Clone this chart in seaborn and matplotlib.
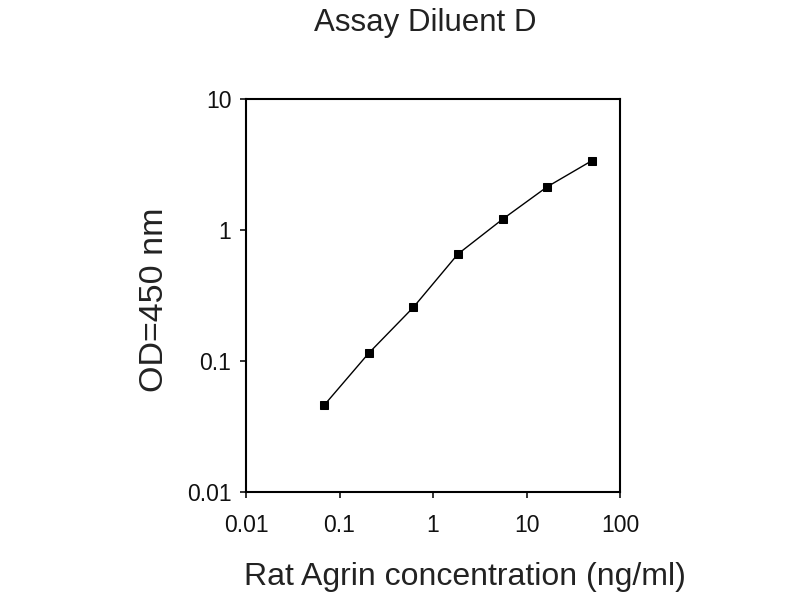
import pandas as pd
import matplotlib
matplotlib.use("Agg")
import matplotlib.pyplot as plt
import seaborn as sns

# data (3-fold dilution series)
conc = [0.0686, 0.206, 0.617, 1.85, 5.56, 16.7, 50.0]
od = [0.046, 0.115, 0.257, 0.656, 1.21, 2.14, 3.38]

x_ticks = [0.01, 0.1, 1, 10, 100]
x_tick_labels = ["0.01", "0.1", "1", "10", "100"]
y_ticks = [0.01, 0.1, 1, 10]
y_tick_labels = ["0.01", "0.1", "1", "10"]

df = pd.DataFrame({"conc": conc, "od": od})

sns.set_style("white")
plt.rcParams["font.family"] = ["Liberation Sans", "DejaVu Sans"]

fig = plt.figure(figsize=(8, 6), dpi=100)
ax = fig.add_axes([0.3075, 0.18, 0.4675, 0.655])

sns.lineplot(
    data=df, x="conc", y="od", ax=ax,
    color="black", linewidth=1.0,
    marker="s", markersize=6, markeredgecolor="black",
)

ax.set_xscale("log")
ax.set_yscale("log")
ax.set_xlim(0.01, 100)
ax.set_ylim(0.01, 10)

ax.set_xticks(x_ticks)
ax.set_xticklabels(x_tick_labels)
ax.set_yticks(y_ticks)
ax.set_yticklabels(y_tick_labels)
ax.minorticks_off()

ax.tick_params(axis="both", direction="out", length=4.5, width=1.2,
               colors="#111111", labelsize=16.5, left=True, bottom=True)
ax.tick_params(axis="x", pad=11)
ax.tick_params(axis="y", pad=6)

for s in ax.spines.values():
    s.set_color("black")
    s.set_linewidth(1.5)

ax.set_xlabel("Rat Agrin concentration (ng/ml)", fontsize=23, color="#222222")
ax.xaxis.set_label_coords(0.586, -0.216)
ax.xaxis.label.set_va("center")
ax.set_ylabel("OD=450 nm", fontsize=24.5, color="#222222")
ax.yaxis.set_label_coords(-0.245, 0.49)
ax.yaxis.label.set_va("center")

fig.text(425 / 800, 1 - 23 / 600, "Assay Diluent D", fontsize=22.5,
         ha="center", va="center", color="#222222")

fig.savefig("out.png", dpi=100, facecolor="white")
